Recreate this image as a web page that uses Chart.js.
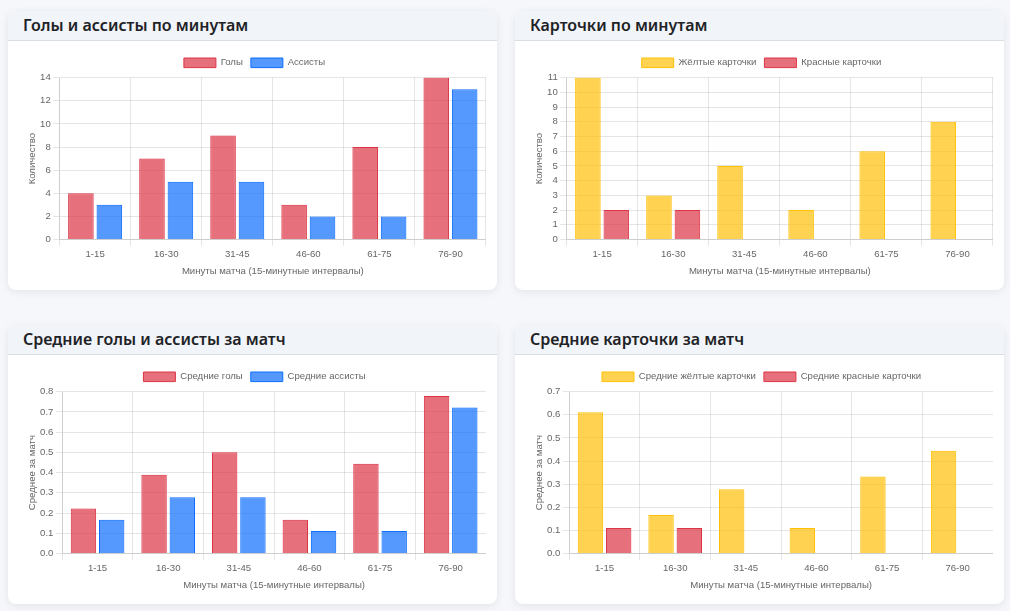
<!DOCTYPE html>
<html lang="ru">
<head>
<meta charset="utf-8">
<script src="https://cdn.jsdelivr.net/npm/chart.js@4.4.1/dist/chart.umd.min.js"></script>
<style>
  html, body { margin: 0; padding: 0; background: #f5f7fa; }
  body { width: 1010px; height: 611px; overflow: hidden; }
  .grid {
    display: grid;
    grid-template-columns: 489px 489px;
    column-gap: 18px;
    row-gap: 35px;
    padding: 11px 0 0 8px;
  }
  .card {
    background: #fff;
    border-radius: 8px;
    box-shadow: 0 2px 8px rgba(0, 0, 0, 0.08);
    overflow: hidden;
    height: 279px;
  }
  .card-header {
    height: 29px;
    background: #f1f4f8;
    border-bottom: 1px solid #d9dee5;
    font-family: "Noto Sans", "Open Sans", sans-serif;
    font-weight: 600;
    font-size: 16px;
    line-height: 29px;
    color: #1e2226;
    padding-left: 15px;
  }
  .card-body { padding: 9px 11px 0 15px; }
  .box { position: relative; width: 463px; height: 227px; }
</style>
</head>
<body>
<div class="grid">
  <div class="card">
    <div class="card-header">Голы и ассисты по минутам</div>
    <div class="card-body"><div class="box"><canvas id="goalsChart"></canvas></div></div>
  </div>
  <div class="card">
    <div class="card-header">Карточки по минутам</div>
    <div class="card-body"><div class="box"><canvas id="cardsChart"></canvas></div></div>
  </div>
  <div class="card">
    <div class="card-header">Средние голы и ассисты за матч</div>
    <div class="card-body"><div class="box"><canvas id="avgGoalsChart"></canvas></div></div>
  </div>
  <div class="card">
    <div class="card-header">Средние карточки за матч</div>
    <div class="card-body"><div class="box"><canvas id="avgCardsChart"></canvas></div></div>
  </div>
</div>
<script>
//данные
const intervals = ["1-15", "16-30", "31-45", "46-60", "61-75", "76-90"];

const goals = [4, 7, 9, 3, 8, 14];
const assists = [3, 5, 5, 2, 2, 13];
const yellowCards = [11, 3, 5, 2, 6, 8];
const redCards = [2, 2, 0, 0, 0, 0];

const avgGoals = [0.222, 0.389, 0.5, 0.167, 0.444, 0.778];
const avgAssists = [0.167, 0.278, 0.278, 0.111, 0.111, 0.722];
const avgYellow = [0.611, 0.167, 0.278, 0.111, 0.333, 0.444];
const avgRed = [0.111, 0.111, 0, 0, 0, 0];

//цвета
const red = { bg: "rgba(220, 53, 69, 0.7)", border: "rgba(220, 53, 69, 1)" };
const blue = { bg: "rgba(13, 110, 253, 0.7)", border: "rgba(13, 110, 253, 1)" };
const yellow = { bg: "rgba(255, 193, 7, 0.7)", border: "rgba(255, 193, 7, 1)" };

Chart.defaults.font.size = 9.6;
Chart.defaults.font.family = "'Liberation Sans', Arial, sans-serif";
Chart.defaults.animation = false;

const ds = (label, data, c) => ({
  label: label,
  data: data,
  backgroundColor: c.bg,
  borderColor: c.border,
  borderWidth: 1,
});

const opts = (yTitle, step, decimals) => ({
  responsive: true,
  maintainAspectRatio: false,
  plugins: {
    legend: {
      position: "top",
      labels: { boxWidth: 32, boxHeight: 9.6, padding: 8 },
    },
  },
  scales: {
    x: {
      grid: { tickLength: 6.4 },
      ticks: { padding: 2.4 },
      title: {
        display: true,
        text: "Минуты матча (15-минутные интервалы)",
        padding: { top: 3.2, bottom: 0 },
      },
    },
    y: {
      beginAtZero: true,
      grid: { tickLength: 6.4 },
      ticks: {
        stepSize: step,
        autoSkip: false,
        padding: 2.4,
        callback: (v) => v.toFixed(decimals),
      },
      title: { display: true, text: yTitle, padding: { top: 3.2, bottom: 0 } },
    },
  },
});

new Chart("goalsChart", {
  type: "bar",
  data: {
    labels: intervals,
    datasets: [ds("Голы", goals, red), ds("Ассисты", assists, blue)],
  },
  options: opts("Количество", 2, 0),
});

new Chart("cardsChart", {
  type: "bar",
  data: {
    labels: intervals,
    datasets: [ds("Жёлтые карточки", yellowCards, yellow), ds("Красные карточки", redCards, red)],
  },
  options: opts("Количество", 1, 0),
});

new Chart("avgGoalsChart", {
  type: "bar",
  data: {
    labels: intervals,
    datasets: [ds("Средние голы", avgGoals, red), ds("Средние ассисты", avgAssists, blue)],
  },
  options: opts("Среднее за матч", 0.1, 1),
});

new Chart("avgCardsChart", {
  type: "bar",
  data: {
    labels: intervals,
    datasets: [
      ds("Средние жёлтые карточки", avgYellow, yellow),
      ds("Средние красные карточки", avgRed, red),
    ],
  },
  options: opts("Среднее за матч", 0.1, 1),
});
</script>
</body>
</html>
